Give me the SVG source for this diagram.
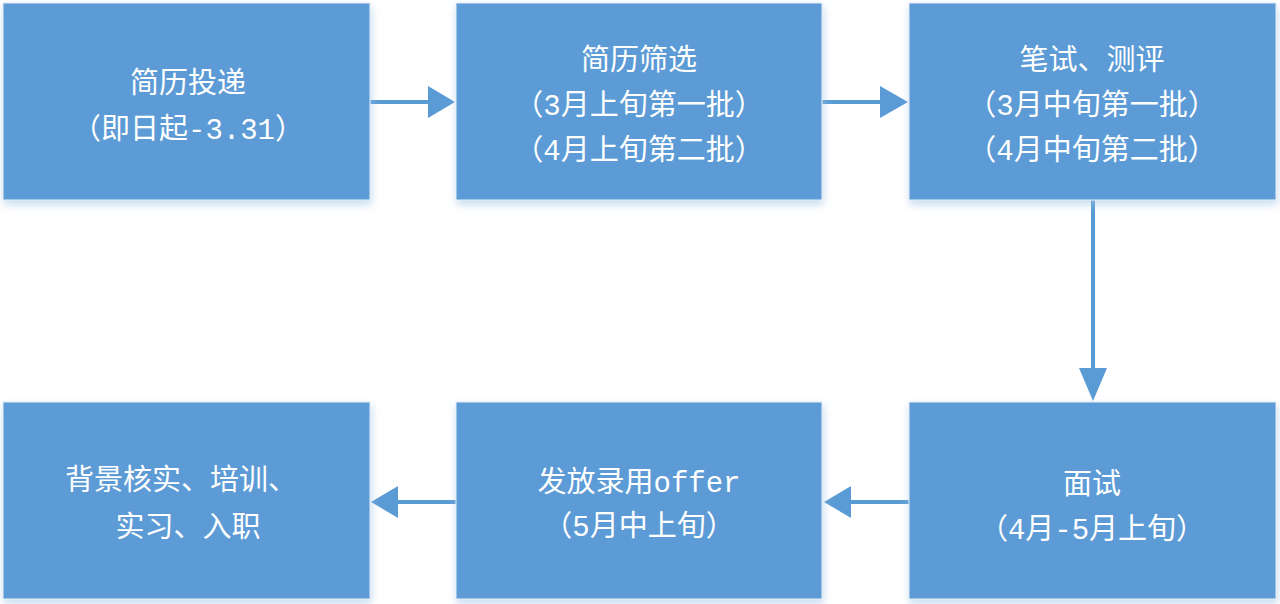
<svg xmlns="http://www.w3.org/2000/svg" width="1280" height="604" viewBox="0 0 1280 604">
<defs>
<filter id="sh" x="-10%" y="-10%" width="125%" height="130%">
<feGaussianBlur in="SourceAlpha" stdDeviation="4"/>
<feOffset dx="1" dy="4" result="b"/>
<feFlood flood-color="#9dc3e6" flood-opacity="0.6"/>
<feComposite in2="b" operator="in"/>
<feMerge><feMergeNode/><feMergeNode in="SourceGraphic"/></feMerge>
</filter>
</defs>
<style>
.box{fill:#5b9bd5;stroke:#e6eef7;stroke-width:1;filter:url(#sh)}
.t{font-family:"Liberation Mono","Noto Sans CJK SC","Noto Sans CJK JP",monospace;font-size:29px;fill:#ffffff;text-anchor:middle;dominant-baseline:central}
.ln{stroke:#5b9bd5;stroke-width:4;fill:none}
.hd{fill:#5b9bd5}
</style>
<rect width="1280" height="604" fill="#ffffff"/>
<g id="connectors">
<line class="ln" x1="370" y1="102" x2="430" y2="102"/>
<polygon class="hd" points="428,86 455,102 428,118"/>
<line class="ln" x1="822" y1="102" x2="882" y2="102"/>
<polygon class="hd" points="880,86 908,102 880,118"/>
<line class="ln" x1="1093" y1="200" x2="1093" y2="370"/>
<polygon class="hd" points="1079,368 1107,368 1093,401"/>
<line class="ln" x1="909" y1="502" x2="849" y2="502"/>
<polygon class="hd" points="851,486 824,502 851,518"/>
<line class="ln" x1="456" y1="502" x2="396" y2="502"/>
<polygon class="hd" points="398,486 371,502 398,518"/>
</g>
<g id="node1">
<rect class="box" x="3" y="3" width="367" height="197"/>
<text class="t" x="188" y="85">简历投递</text>
<text class="t" x="188" y="131">（即日起-3.31）</text>
</g>
<g id="node2">
<rect class="box" x="456" y="3" width="366" height="197"/>
<text class="t" x="639" y="62">简历筛选</text>
<text class="t" x="639" y="107">（3月上旬第一批）</text>
<text class="t" x="639" y="152">（4月上旬第二批）</text>
</g>
<g id="node3">
<rect class="box" x="909" y="3" width="367" height="197"/>
<text class="t" x="1092" y="62">笔试、测评</text>
<text class="t" x="1092" y="107">（3月中旬第一批）</text>
<text class="t" x="1092" y="152">（4月中旬第二批）</text>
</g>
<g id="node4">
<rect class="box" x="909" y="402" width="367" height="197"/>
<text class="t" x="1092" y="486">面试</text>
<text class="t" x="1092" y="531">（4月-5月上旬）</text>
</g>
<g id="node5">
<rect class="box" x="456" y="402" width="366" height="197"/>
<text class="t" x="639" y="484">发放录用offer</text>
<text class="t" x="639" y="528">（5月中上旬）</text>
</g>
<g id="node6">
<rect class="box" x="3" y="402" width="367" height="197"/>
<text class="t" x="181" y="482">背景核实、培训、</text>
<text class="t" x="188" y="529">实习、入职</text>
</g>
</svg>
